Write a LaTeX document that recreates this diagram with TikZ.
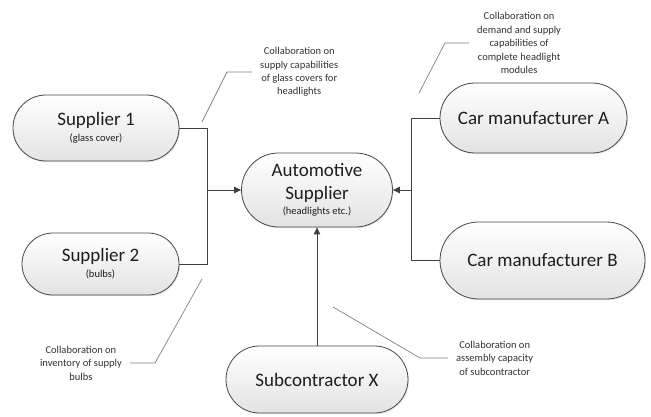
\documentclass[tikz,border=0pt]{standalone}
\usepackage{fontspec}
\setmainfont{Carlito}
\usetikzlibrary{arrows.meta,shadows,shapes.misc}
\definecolor{linec}{HTML}{404040}
\definecolor{callc}{HTML}{808080}
\definecolor{textc}{HTML}{1E1E1E}
\begin{document}
\begin{tikzpicture}[x=1pt,y=-1pt,
  pill/.style={rounded rectangle, draw=black!72, line width=0.8pt,
    top color=white, bottom color=black!11, inner sep=0pt, align=center,
    text=textc, font=\fontsize{19}{23}\selectfont,
    drop shadow={opacity=0.18, shadow xshift=1pt, shadow yshift=-1.2pt}},
  conn/.style={draw=linec, line width=0.9pt},
  arr/.style={conn, -{Triangle[length=7pt,width=6.5pt]}},
  call/.style={draw=callc, line width=0.7pt},
  calltext/.style={align=center, inner xsep=8pt, inner ysep=0pt, text=black!80,
    font=\fontsize{10.5}{13.4}\selectfont}]
\useasboundingbox (0,0) rectangle (651,417);

% main nodes
\node[pill, minimum width=166pt, minimum height=66pt] (s1) at (96,128)
  {Supplier 1\\[-7pt]{\fontsize{10.5}{12}\selectfont (glass cover)}};
\node[pill, minimum width=157pt, minimum height=62pt] (s2) at (100.5,264)
  {Supplier 2\\[-7pt]{\fontsize{10.5}{12}\selectfont (bulbs)}};
\node[pill, minimum width=151pt, minimum height=74pt] (as) at (317,190)
  {Automotive\\Supplier\\[-8pt]{\fontsize{10.5}{12}\selectfont (headlights etc.)}};
\node[pill, minimum width=187pt, minimum height=70pt] (ca) at (533.5,118)
  {Car manufacturer A};
\node[pill, minimum width=205pt, minimum height=77pt] (cb) at (542.5,260.5)
  {Car manufacturer B};
\node[pill, minimum width=182pt, minimum height=67pt] (sx) at (317,379.5)
  {Subcontractor X};

% junctions
\coordinate (jl) at (207,190);
\coordinate (jr) at (411,190);

\draw[conn] (s1.east) -| (jl);
\draw[conn] (s2.east) -| (jl);
\draw[arr] (jl) -- (as.west);
\draw[conn] (ca.west) -| (jr);
\draw[conn] (cb.west) -| (jr);
\draw[arr] (jr) -- (as.east);
\draw[arr] (sx.north) -- (as.south);

% callouts
\node[calltext, anchor=west] (c1) at (252,72)
  {Collaboration on\\supply capabilities\\of glass covers for\\headlights};
\node[calltext, anchor=west] (c2) at (469,43)
  {Collaboration on\\demand and supply\\capabilities of\\complete headlight\\modules};
\node[calltext, anchor=east] (c3) at (130,363)
  {Collaboration on\\inventory of supply\\bulbs};
\node[calltext, anchor=west] (c4) at (448,358)
  {Collaboration on\\assembly capacity\\of subcontractor};

\coordinate (e1) at (202,122);
\coordinate (k1) at (227,72);
\coordinate (e2) at (419,93);
\coordinate (k2) at (445,43);
\coordinate (e3) at (202,279);
\coordinate (k3) at (155,363);
\coordinate (e4) at (333,307);
\coordinate (k4) at (420,358);

\draw[call] (e1) -- (k1) -- (c1.west);
\draw[call] (e2) -- (k2) -- (c2.west);
\draw[call] (e3) -- (k3) -- (c3.east);
\draw[call] (e4) -- (k4) -- (c4.west);
\end{tikzpicture}
\end{document}
